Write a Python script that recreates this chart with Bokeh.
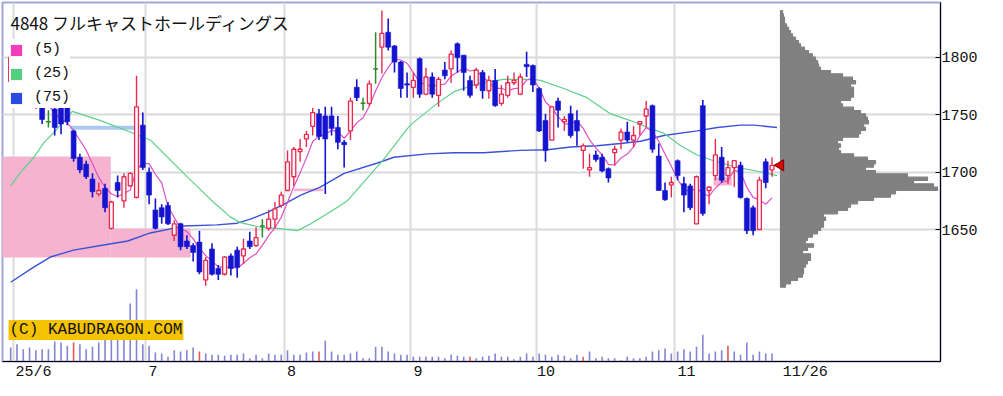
import numpy as np
from bokeh.plotting import figure
from bokeh.models import Range1d, FixedTicker, Label, Legend, LegendItem, ColumnDataSource
from bokeh.embed import file_html
from bokeh.resources import INLINE

# ---------------- data ----------------
FIRST = -1  # index of first visible session (29 May); index 0 = 2 Jun 2025
opens = [1779, 1800, 1794, 1776, 1757, 1759, 1744, 1755, 1757, 1758,
         1736, 1713, 1707, 1694, 1681, 1686, 1651, 1691, 1675, 1688,
         1678, 1741, 1700, 1667, 1669, 1671, 1645, 1655, 1640, 1636,
         1639, 1606, 1633, 1616, 1611, 1627, 1632, 1627, 1640, 1636,
         1653, 1651, 1659, 1671, 1684, 1696, 1718, 1729, 1740, 1751,
         1749, 1749, 1739, 1726, 1736, 1774, 1760, 1760, 1790, 1809,
         1822, 1810, 1796, 1777, 1774, 1799, 1768, 1783, 1767, 1789,
         1790, 1812, 1802, 1780, 1776, 1787, 1771, 1780, 1760, 1767,
         1778, 1768, 1794, 1793, 1773, 1745, 1728, 1762, 1744, 1751,
         1745, 1719, 1702, 1715, 1713, 1703, 1717, 1728, 1735, 1728,
         1742, 1749, 1758, 1714, 1684, 1689, 1710, 1690, 1688, 1655,
         1758, 1684, 1697, 1713, 1697, 1704, 1706, 1677, 1669, 1650,
         1709, 1702]
highs = [1802, 1806, 1797, 1780, 1761, 1762, 1754, 1757, 1758, 1760,
         1737, 1716, 1710, 1699, 1691, 1690, 1675, 1697, 1699, 1700,
         1784, 1752, 1704, 1677, 1672, 1674, 1658, 1656, 1645, 1638,
         1649, 1626, 1638, 1619, 1627, 1629, 1635, 1642, 1648, 1652,
         1659, 1667, 1674, 1683, 1719, 1722, 1729, 1736, 1756, 1755,
         1757, 1757, 1749, 1728, 1765, 1781, 1765, 1780, 1822, 1841,
         1834, 1811, 1797, 1787, 1787, 1800, 1791, 1787, 1783, 1796,
         1806, 1813, 1802, 1784, 1791, 1789, 1784, 1790, 1776, 1784,
         1787, 1786, 1805, 1794, 1774, 1751, 1758, 1765, 1749, 1758,
         1754, 1725, 1716, 1719, 1716, 1704, 1723, 1738, 1744, 1740,
         1744, 1762, 1759, 1725, 1691, 1696, 1711, 1696, 1690, 1697,
         1763, 1688, 1729, 1722, 1710, 1710, 1709, 1678, 1671, 1696,
         1712, 1713]
lows = [1776, 1792, 1772, 1763, 1755, 1742, 1739, 1732, 1733, 1741,
        1709, 1699, 1694, 1678, 1679, 1665, 1650, 1678, 1669, 1687,
        1677, 1702, 1672, 1650, 1655, 1654, 1640, 1632, 1633, 1622,
        1611, 1601, 1610, 1606, 1610, 1610, 1608, 1620, 1633, 1635,
        1643, 1649, 1651, 1669, 1686, 1688, 1709, 1722, 1732, 1728,
        1681, 1732, 1720, 1704, 1728, 1762, 1754, 1758, 1777, 1786,
        1806, 1787, 1765, 1765, 1765, 1765, 1767, 1765, 1757, 1781,
        1778, 1787, 1771, 1765, 1773, 1764, 1764, 1757, 1758, 1765,
        1776, 1767, 1783, 1770, 1735, 1709, 1728, 1739, 1736, 1730,
        1723, 1703, 1696, 1709, 1700, 1691, 1706, 1720, 1726, 1722,
        1732, 1739, 1717, 1684, 1675, 1678, 1693, 1665, 1667, 1655,
        1662, 1672, 1693, 1691, 1690, 1687, 1677, 1646, 1645, 1650,
        1686, 1696]
closes = [1800, 1795, 1775, 1767, 1760, 1746, 1744, 1739, 1742, 1744,
          1712, 1702, 1696, 1683, 1684, 1669, 1674, 1684, 1696, 1699,
          1757, 1704, 1680, 1651, 1661, 1655, 1655, 1635, 1635, 1630,
          1613, 1623, 1611, 1611, 1626, 1616, 1617, 1633, 1635, 1643,
          1653, 1659, 1668, 1680, 1709, 1720, 1720, 1733, 1752, 1731,
          1729, 1738, 1726, 1724, 1762, 1765, 1760, 1777, 1790, 1821,
          1809, 1796, 1773, 1776, 1780, 1768, 1783, 1768, 1781, 1784,
          1803, 1800, 1787, 1767, 1789, 1771, 1780, 1758, 1768, 1778,
          1780, 1783, 1792, 1776, 1736, 1719, 1757, 1754, 1746, 1732,
          1736, 1723, 1704, 1711, 1701, 1695, 1720, 1735, 1728, 1732,
          1744, 1755, 1720, 1684, 1676, 1691, 1697, 1680, 1669, 1696,
          1664, 1687, 1715, 1693, 1704, 1710, 1678, 1649, 1649, 1693,
          1691, 1706]
volumes = [140, 173, 123, 140, 113, 123, 123, 200, 190, 157,
           190, 173, 123, 147, 190, 223, 223, 223, 223, 580,
           723, 173, 157, 90, 80, 47, 113, 100, 113, 140,
           100, 80, 67, 67, 57, 67, 67, 80, 33, 67,
           33, 80, 67, 67, 113, 67, 67, 90, 100, 100,
           207, 100, 67, 67, 80, 100, 33, 33, 147, 147,
           100, 80, 67, 67, 47, 47, 47, 47, 47, 33,
           67, 57, 47, 47, 33, 47, 57, 80, 47, 47,
           23, 47, 80, 47, 80, 67, 47, 67, 57, 33,
           67, 47, 100, 33, 47, 33, 33, 13, 47, 33,
           33, 47, 100, 113, 130, 80, 100, 123, 100, 147,
           267, 80, 100, 113, 157, 100, 67, 190, 67, 100,
           80, 80]
vol_marked = [9, 29, 48, 72, 90, 113]

# moving averages (session index, price)
ma25_x = [-1.0, 0.6, 2.7, 4.3, 6.1, 8.8, 13.3, 18.0, 21.2, 26.5, 30.8, 33.9, 35.5,
          38.7, 41.4, 44.6, 46.7, 48.2, 51.4, 52.5, 58.1, 62.5, 66.8, 69.4, 73.1,
          77.3, 82.1, 83.2, 86.9, 90.6, 94.3, 97.5, 100.2, 102.8, 105.5, 108.1,
          110.7, 114.5, 117.6, 120.8]
ma25_y = [1688, 1700, 1713, 1726, 1736, 1753, 1745, 1735, 1728, 1699, 1676, 1661, 1656,
          1652, 1651, 1649, 1655, 1660, 1671, 1675, 1710, 1741, 1760, 1770, 1777,
          1781, 1781, 1780, 1773, 1765, 1751, 1745, 1739, 1734, 1723, 1715,
          1710, 1704, 1701, 1697]
ma75_x = [-1.0, 2.6, 5.3, 9.0, 13.3, 17.6, 21.2, 26.5, 31.8, 35.0, 37.1, 39.8, 42.4,
          45.1, 48.2, 52.0, 57.3, 59.9, 65.2, 69.4, 74.2, 80.0, 84.3, 88.0, 92.2,
          95.9, 99.1, 102.8, 108.1, 111.3, 115.0, 117.1, 120.8]
ma75_y = [1604, 1617, 1626, 1632, 1636, 1640, 1647, 1653, 1654, 1655.5, 1659, 1665, 1672,
          1680, 1687, 1699, 1708, 1713, 1716, 1717, 1717, 1719, 1719.5, 1722, 1723,
          1725, 1727, 1732, 1736, 1739, 1741, 1741, 1739]

# open price gaps (window boxes)
gap_left = [-2.4, 14.9, 8.5, 44.0, 110.7]
gap_right = [14.9, 27.6, 18.8, 48.7, 113.6]
gap_top = [1713.7, 1650.9, 1740.5, 1685.8, 1695.6]
gap_bottom = [1625.6, 1625.6, 1737.0, 1683.4, 1688.4]
gap_color = ["#f6b3cf", "#f6b3cf", "#aac8f0", "#f6b3cf", "#f6b3cf"]

# volume-at-price profile (bins from top, 2.907 yen each)
profile_top = 1841.0
profile_step = 2.907
profile_vol = [2, 3, 4, 4, 6, 8, 10, 12, 15, 18, 20, 24, 28, 32, 35,
               37, 38, 40, 50, 62, 72, 75, 70, 73, 73,
               73, 70, 60, 62, 73, 80, 85, 87, 88, 83,
               85, 80, 78, 62, 57, 60, 58, 60, 73, 87,
               95, 93, 85, 95, 127, 147, 133, 153, 157, 115,
               110, 93, 77, 70, 67, 57, 43, 45, 43, 43,
               40, 37, 32, 27, 25, 33, 27, 22, 30, 30,
               27, 25, 23, 23, 22, 17, 10, 5]

month_idx = [0, 21, 43, 63, 83, 105]          # first session of each month
month_label_pos = [2.63, 21.62, 43.63, 63.74, 84.1, 106.4, 125.3]
month_labels = ["25/6", "7", "8", "9", "10", "11", "11/26"]
price_ticks = [1650, 1700, 1750, 1800]
title_text = "4848 フルキャストホールディングス"

# ---------------- derived ----------------
idx = np.arange(FIRST, FIRST + len(closes))
O = np.array(opens, float); Hh = np.array(highs, float)
L = np.array(lows, float); C = np.array(closes, float)
V = np.array(volumes, float)
ma5 = np.convolve(C, np.ones(5) / 5, mode="valid")
ma5_x = idx[4:]

up = C > O
dn = C < O
dj = C == O

RED = "#e8284e"
BLUE = "#1414d0"
GREEN = "#2a8a2a"

p = figure(width=1003, height=396, output_backend="svg", toolbar_location=None,
           x_range=Range1d(-2.30, 146.78), y_range=Range1d(1534.9, 1847.96),
           y_axis_location="right", min_border_left=2, min_border_top=2,
           min_border_right=63, min_border_bottom=35)
p.extra_y_ranges = {"vol": Range1d(0, 3590)}
p.extra_x_ranges = {"prof": Range1d(-778, 160)}
p.background_fill_color = "white"
p.border_fill_color = "white"
p.outline_line_color = "#a4a4d8"
p.outline_line_width = 2

# grids
p.xgrid.ticker = FixedTicker(ticks=[m - 0.5 for m in month_idx])
p.ygrid.ticker = FixedTicker(ticks=price_ticks)
for g in (p.xgrid, p.ygrid):
    g.grid_line_color = "#dadada"
    g.grid_line_width = 2

# axes
xa = p.xaxis[0]
xa.ticker = FixedTicker(ticks=month_label_pos)
xa.major_label_overrides = {pos: lab for pos, lab in zip(month_label_pos, month_labels)}
xa.major_tick_in = 0
xa.major_tick_out = 0
xa.minor_tick_line_color = None
xa.axis_line_color = "black"
xa.major_label_standoff = 2
xa.major_label_text_font = "Liberation Mono"
xa.major_label_text_font_size = "15px"
xa.major_label_text_color = "#111111"

ya = p.yaxis[0]
ya.ticker = FixedTicker(ticks=price_ticks)
ya.major_tick_in = 5
ya.major_tick_out = 0
ya.minor_tick_line_color = None
ya.axis_line_color = "black"
ya.major_label_standoff = 1
ya.major_label_text_font = "Liberation Mono"
ya.major_label_text_font_size = "15px"
ya.major_label_text_color = "#111111"

# gap boxes
p.quad(left=gap_left, right=gap_right, top=gap_top, bottom=gap_bottom,
       fill_color=gap_color, line_color=None)

# volume profile
nb = len(profile_vol)
prof_y = [profile_top - (k + 0.5) * profile_step for k in range(nb)]
p.hbar(y=prof_y, left=0, right=profile_vol, height=profile_step,
       x_range_name="prof", fill_color="#808080", line_color="#808080", line_width=1.2)

# volume bars
vcol = ["#e05a5a" if i in vol_marked else "#8484d4" for i in idx]
p.segment(x0=idx, y0=0, x1=idx, y1=V, y_range_name="vol", line_color=vcol, line_width=1.6)

# moving averages
p.line(ma75_x, ma75_y, line_color="#3a52d6", line_width=1.4)
p.line(ma25_x, ma25_y, line_color="#5cd08c", line_width=1.2)
p.line(ma5_x, ma5, line_color="#e050c8", line_width=1.2)

# candles
src_up = ColumnDataSource(dict(x=idx[up], o=O[up], c=C[up], h=Hh[up], l=L[up]))
src_dn = ColumnDataSource(dict(x=idx[dn], o=O[dn], c=C[dn], h=Hh[dn], l=L[dn]))
src_dj = ColumnDataSource(dict(x=idx[dj], x0=idx[dj] - 0.38, x1=idx[dj] + 0.38,
                               o=O[dj], h=Hh[dj], l=L[dj]))
p.segment(x0="x", y0="h", x1="x", y1="l", source=src_dn, line_color=BLUE, line_width=1.6)
p.vbar(x="x", top="o", bottom="c", width=0.78, source=src_dn, fill_color=BLUE, line_color=BLUE, line_width=0.6)
p.segment(x0="x", y0="h", x1="x", y1="c", source=src_up, line_color=RED, line_width=1.4)
p.segment(x0="x", y0="o", x1="x", y1="l", source=src_up, line_color=RED, line_width=1.4)
p.vbar(x="x", top="c", bottom="o", width=0.62, source=src_up, fill_color="#fff4f7", line_color=RED, line_width=1.3)
p.segment(x0="x", y0="h", x1="x", y1="l", source=src_dj, line_color=GREEN, line_width=1.5)
p.segment(x0="x0", y0="o", x1="x1", y1="o", source=src_dj, line_color=GREEN, line_width=1.5)

# last price marker
p.scatter(x=[idx[-1] + 1.35], y=[C[-1]], marker="triangle", angle=np.pi / 2, size=11,
          fill_color="#e00000", line_color="#700000", line_width=1)

# legend (coloured squares); the dummy quads lie outside the visible range
lg5 = p.quad(left=[-50], right=[-49], top=[1000], bottom=[999], fill_color="#f23cba", line_color=None)
lg25 = p.quad(left=[-50], right=[-49], top=[1000], bottom=[999], fill_color="#52d080", line_color=None)
lg75 = p.quad(left=[-50], right=[-49], top=[1000], bottom=[999], fill_color="#2a4ae0", line_color=None)
legend = Legend(items=[LegendItem(label="(5)", renderers=[lg5]),
                       LegendItem(label="(25)", renderers=[lg25]),
                       LegendItem(label="(75)", renderers=[lg75])],
                location=(7, 253), padding=2, margin=0, spacing=3,
                glyph_width=14, glyph_height=14, label_height=21, label_standoff=11,
                label_text_font="Liberation Mono", label_text_font_size="15px",
                label_text_color="#111111", border_line_color=None,
                background_fill_color="white", background_fill_alpha=1.0)
p.add_layout(legend)

p.add_layout(Label(x=-1.03, y=1830.5, text=title_text, text_font="Noto Sans CJK JP",
                   text_font_size="17px", text_baseline="middle", text_color="#111111"))
p.add_layout(Label(x=-1.343, y=1562.4, text="(C) KABUDRAGON.COM", text_font="Liberation Mono",
                   text_font_size="16px", text_baseline="middle", text_color="#111111",
                   background_fill_color="#f6c300", padding=1))

open("out.html", "w", encoding="utf-8").write(file_html(p, INLINE, title="4848"))
